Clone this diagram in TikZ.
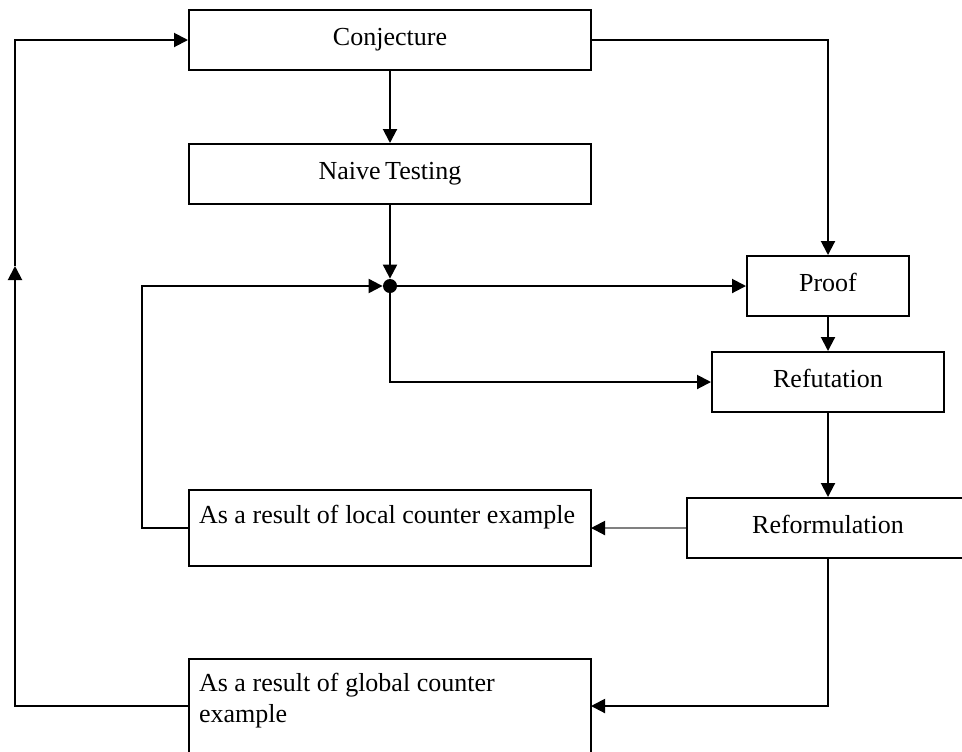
\documentclass[tikz,border=0pt]{standalone}
\usepackage{fontspec}
\setmainfont{Liberation Serif}[WordSpace=0.7]
\usetikzlibrary{arrows.meta, positioning, calc}

\tikzset{
  box/.style={draw, line width=1pt, rectangle, inner sep=0pt, minimum height=30pt,
    text height=9pt, text depth=4pt},
  notebox/.style={draw, line width=1pt, rectangle, anchor=north west, outer sep=0pt,
    inner xsep=5pt, inner ysep=0pt, text width=191pt, align=left,
    execute at begin node={\spaceskip=3.3pt\relax}},
  arr/.style={line width=1pt, -{Triangle[length=7pt,width=7pt]}},
}

\begin{document}
\begin{tikzpicture}[x=0.5pt, y=-0.5pt, font=\fontsize{13}{15.5}\selectfont]
    \useasboundingbox (0,0) rectangle (962,751);
    % boxes
    \node[box, minimum width=201pt] (conj) at (390,40) {Conjecture};
    \node[box, minimum width=201pt] (naive) at (390,174) {Naive Testing};
    \node[circle, fill, inner sep=0pt, minimum size=7pt] (dot) at (390,286) {};
    \node[box, minimum width=81pt] (proof) at (828,286) {Proof};
    \node[box, minimum width=116pt] (refut) at (828,382) {Refutation};
    \node[box, minimum width=141pt] (reform) at (828,528) {Reformulation};
    \node[notebox, text height=16.5pt, text depth=21.5pt] (local) at (189,490)
      {\mbox{As a result of local counter example}};
    \node[notebox, text height=16pt, text depth=34.5pt] (global) at (189,659)
      {\mbox{As a result of global counter}\\example};
    % bends
    \coordinate (lb) at (15,706);
    \coordinate (lm) at (15,266);
    \coordinate (lt) at (15,40);
    \coordinate (lx) at (142,528);
    % main flow
    \draw[arr] (conj.south) -- (naive.north);
    \draw[arr] (naive.south) -- (dot.north);
    \draw[arr] (conj.east) -| (proof.north);
    \draw[arr] (dot.center) -- (proof.west);
    \draw[arr] (dot.center) |- (refut.west);
    \draw[arr] (proof.south) -- (refut.north);
    \draw[arr] (refut.south) -- (reform.north);
    % back to the start
    \draw[line width=1pt, gray, -{Triangle[length=7pt,width=7pt,black]}] (reform.west) -- (local.east);
    \draw[arr] (reform.south) |- (lb -| global.east);
    \draw[arr] (local.west) -- (lx) |- (dot.west);
    \draw[arr] (lb -| global.west) -- (lb) -- (lm);
    \draw[arr] (lm) -- (lt) -- (conj.west);
\end{tikzpicture}
\end{document}
